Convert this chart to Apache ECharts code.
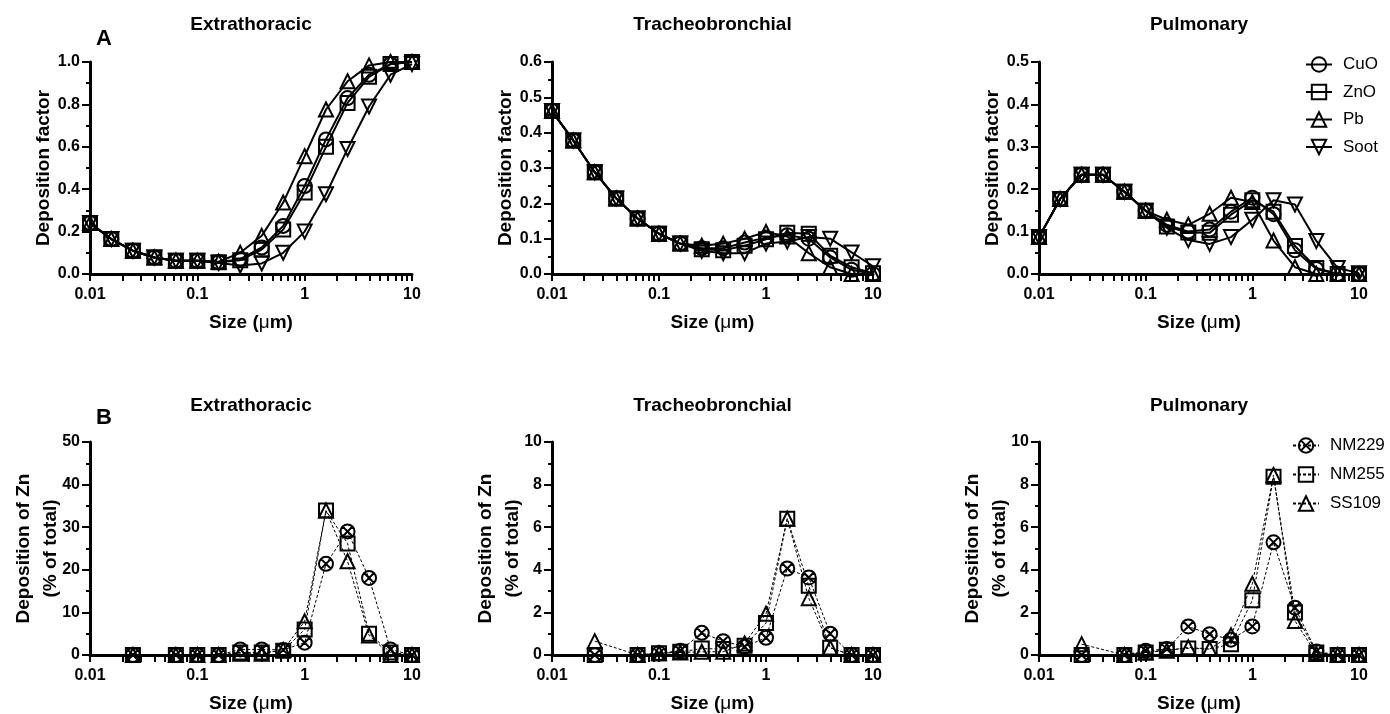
<!DOCTYPE html>
<html>
<head>
<meta charset="utf-8">
<script src="https://cdn.jsdelivr.net/npm/echarts@6/dist/echarts.min.js"></script>
<style>
  html, body { margin: 0; background: #fff; }
  #chart { width: 1390px; height: 714px; }
</style>
</head>
<body>
<div id="chart"></div>
<script>
// particle sizes (um)
const sizesA = [0.01, 0.0158, 0.0251, 0.0398, 0.0631, 0.1, 0.158, 0.251, 0.398, 0.631, 1, 1.58, 2.51, 3.98, 6.31, 10]
const sizesB = [0.0251, 0.0631, 0.1, 0.158, 0.251, 0.398, 0.631, 1, 1.58, 2.51, 3.98, 6.31, 10]
const sizeTicks = [0.01, 0.02, 0.03, 0.04, 0.05, 0.06, 0.07, 0.08, 0.09, 0.1, 0.2, 0.3, 0.4, 0.5, 0.6, 0.7, 0.8, 0.9,
  1, 2, 3, 4, 5, 6, 7, 8, 9, 10]

// A: deposition factor
const etCuO = [0.24, 0.165, 0.11, 0.078, 0.063, 0.063, 0.055, 0.07, 0.125, 0.227, 0.415, 0.635, 0.83, 0.94, 0.99, 1.0]
const etZnO = [0.24, 0.165, 0.11, 0.078, 0.063, 0.063, 0.055, 0.065, 0.115, 0.21, 0.385, 0.6, 0.807, 0.93, 0.99, 1.0]
const etPb = [0.24, 0.165, 0.11, 0.078, 0.063, 0.063, 0.058, 0.1, 0.18, 0.337, 0.556, 0.776, 0.909, 0.984, 1.0, 1.0]
const etSoot = [0.24, 0.165, 0.11, 0.078, 0.063, 0.063, 0.052, 0.04, 0.05, 0.1, 0.2, 0.376, 0.59, 0.79, 0.94, 0.99]

const tbCuO = [0.461, 0.378, 0.288, 0.214, 0.157, 0.114, 0.086, 0.073, 0.073, 0.089, 0.103, 0.11, 0.1, 0.047, 0.012, 0]
const tbZnO = [0.461, 0.378, 0.288, 0.214, 0.157, 0.114, 0.086, 0.07, 0.067, 0.08, 0.098, 0.117, 0.114, 0.052, 0.019, 0.002]
const tbPb = [0.461, 0.378, 0.288, 0.214, 0.157, 0.114, 0.086, 0.08, 0.086, 0.1, 0.119, 0.106, 0.059, 0.019, 0, 0]
const tbSoot = [0.461, 0.378, 0.288, 0.214, 0.157, 0.114, 0.086, 0.066, 0.059, 0.059, 0.086, 0.092, 0.105, 0.1, 0.061, 0.022]

const pulCuO = [0.087, 0.177, 0.234, 0.234, 0.194, 0.149, 0.116, 0.1, 0.105, 0.147, 0.18, 0.141, 0.056, 0.012, 0, 0]
const pulZnO = [0.087, 0.177, 0.234, 0.234, 0.194, 0.149, 0.112, 0.098, 0.097, 0.14, 0.174, 0.147, 0.066, 0.014, 0, 0]
const pulPb = [0.087, 0.177, 0.234, 0.234, 0.194, 0.149, 0.128, 0.116, 0.142, 0.18, 0.17, 0.079, 0.016, 0, 0, 0]
const pulSoot = [0.087, 0.177, 0.234, 0.234, 0.194, 0.149, 0.109, 0.08, 0.071, 0.087, 0.128, 0.174, 0.164, 0.078, 0.014, 0.002]

// B: deposition of Zn (% of total)
const etNM229 = [0, 0, 0, 0, 1.3, 1.3, 1.2, 2.9, 21.4, 29, 18.1, 1.3, 0]
const etNM255 = [0, 0, 0, 0, 0.6, 0.6, 1.0, 6.0, 33.9, 26.2, 5.0, 0.6, 0]
const etSS109 = [0, 0, 0, 0, 0.3, 0.3, 1.2, 7.9, 33.9, 22, 4.6, 0, 0]

const tbNM229 = [0, 0, 0.08, 0.2, 1.04, 0.65, 0.39, 0.81, 4.06, 3.64, 1.0, 0, 0]
const tbNM255 = [0, 0, 0.08, 0.15, 0.3, 0.28, 0.43, 1.5, 6.4, 3.25, 0.34, 0, 0]
const tbSS109 = [0.65, 0, 0.08, 0.12, 0.15, 0.15, 0.54, 1.94, 6.4, 2.67, 0.34, 0, 0]

const pulNM229 = [0, 0, 0.2, 0.28, 1.34, 0.98, 0.72, 1.34, 5.29, 2.22, 0.17, 0, 0]
const pulNM255 = [0, 0, 0.12, 0.25, 0.31, 0.28, 0.51, 2.57, 8.37, 1.99, 0.12, 0, 0]
const pulSS109 = [0.51, 0, 0.12, 0.2, 0.36, 0.28, 0.93, 3.34, 8.45, 1.6, 0.05, 0, 0]

const panelTitles = ['Extrathoracic', 'Tracheobronchial', 'Pulmonary']
const yMaxA = [1, 0.6, 0.5]
const yStepA = [0.2, 0.1, 0.1]
const yMaxB = [50, 10, 10]
const yStepB = [10, 2, 2]

const font = "'Liberation Sans', Arial, Helvetica, sans-serif"
const crossCircle = 'path://M0,10A10,10 0 1,1 20,10A10,10 0 1,1 0,10Z M2.93,2.93L17.07,17.07 M17.07,2.93L2.93,17.07'

const colLeft = [90, 552, 1039]
const colWidth = [322, 321, 320]

let grids = []
let xAxes = []
let yAxes = []
let titles = []
let series = []

function makeAxes (idx, yMax, yStep, yName, nameGap, decimals) {
  xAxes.push({
    type: 'log',
    logBase: 10,
    gridIndex: idx,
    min: 0.01,
    max: 10,
    name: 'Size ({mu|μ}m)',
    nameLocation: 'middle',
    nameGap: 39,
    nameMoveOverlap: false,
    nameTextStyle: {
      fontFamily: font,
      fontSize: 19,
      fontWeight: 'bold',
      color: '#000',
      rich: { mu: { fontFamily: font, fontSize: 19, fontWeight: 'normal', color: '#000' } }
    },
    axisLine: { lineStyle: { color: '#000', width: 3 } },
    axisTick: { length: 7, lineStyle: { color: '#000', width: 2 }, customValues: sizeTicks },
    splitLine: { show: false },
    axisLabel: {
      margin: 13,
      fontFamily: font,
      fontSize: 16,
      fontWeight: 'bold',
      color: '#000',
      formatter: v => String(+Number(v).toPrecision(3))
    }
  })
  yAxes.push({
    type: 'value',
    gridIndex: idx,
    min: 0,
    max: yMax,
    interval: yStep,
    name: yName,
    nameLocation: 'middle',
    nameGap: nameGap,
    nameMoveOverlap: false,
    nameTextStyle: { fontFamily: font, fontSize: 19, fontWeight: 'bold', color: '#000', lineHeight: 27 },
    axisLine: { show: true, lineStyle: { color: '#000', width: 3 } },
    axisTick: { show: true, length: 8, lineStyle: { color: '#000', width: 2 } },
    minorTick: { show: true, splitNumber: 2, length: 4, lineStyle: { color: '#000', width: 2 } },
    splitLine: { show: false },
    axisLabel: {
      margin: 10,
      fontFamily: font,
      fontSize: 16,
      fontWeight: 'bold',
      color: '#000',
      formatter: v => v.toFixed(decimals)
    }
  })
}

function addSeries (name, xs, ys, idx, symbol, rotate, dashed) {
  series.push({
    type: 'line',
    name: name,
    xAxisIndex: idx,
    yAxisIndex: idx,
    data: xs.map((x, i) => [x, ys[i]]),
    symbol: symbol,
    symbolSize: 14,
    symbolRotate: rotate,
    clip: false,
    animation: false,
    lineStyle: dashed ? { color: '#000', width: 1, type: [3, 2] } : { color: '#000', width: 2 },
    itemStyle: { color: 'rgba(255,255,255,0)', borderColor: '#000', borderWidth: 2 },
    emphasis: { disabled: true }
  })
}

for (let c = 0; c < 3; c++) {
  // row A
  grids.push({ left: colLeft[c], top: 62, width: colWidth[c], height: 212 })
  makeAxes(c, yMaxA[c], yStepA[c], 'Deposition factor', 33, 1)
  titles.push({
    text: panelTitles[c],
    left: colLeft[c] + colWidth[c] / 2,
    top: 15,
    textAlign: 'center',
    padding: 0,
    textStyle: { fontFamily: font, fontSize: 19, fontWeight: 'bold', color: '#000' }
  })
}
for (let c = 0; c < 3; c++) {
  // row B
  grids.push({ left: colLeft[c], top: 442, width: colWidth[c], height: 214 })
  makeAxes(c + 3, yMaxB[c], yStepB[c], 'Deposition of Zn\n(% of total)', 26, 0)
  titles.push({
    text: panelTitles[c],
    left: colLeft[c] + colWidth[c] / 2,
    top: 396,
    textAlign: 'center',
    padding: 0,
    textStyle: { fontFamily: font, fontSize: 19, fontWeight: 'bold', color: '#000' }
  })
}
titles.push({ text: 'A', left: 96, top: 28, padding: 0, textStyle: { fontFamily: font, fontSize: 22, fontWeight: 'bold', color: '#000' } })
titles.push({ text: 'B', left: 96, top: 407, padding: 0, textStyle: { fontFamily: font, fontSize: 22, fontWeight: 'bold', color: '#000' } })

const setA = [[etCuO, etZnO, etPb, etSoot], [tbCuO, tbZnO, tbPb, tbSoot], [pulCuO, pulZnO, pulPb, pulSoot]]
const setB = [[etNM229, etNM255, etSS109], [tbNM229, tbNM255, tbSS109], [pulNM229, pulNM255, pulSS109]]

for (let c = 0; c < 3; c++) {
  addSeries('CuO', sizesA, setA[c][0], c, 'circle', 0, false)
  addSeries('ZnO', sizesA, setA[c][1], c, 'rect', 0, false)
  addSeries('Pb', sizesA, setA[c][2], c, 'triangle', 0, false)
  addSeries('Soot', sizesA, setA[c][3], c, 'triangle', 180, false)
}
for (let c = 0; c < 3; c++) {
  addSeries('NM229', sizesB, setB[c][0], c + 3, crossCircle, 0, true)
  addSeries('NM255', sizesB, setB[c][1], c + 3, 'rect', 0, true)
  addSeries('SS109', sizesB, setB[c][2], c + 3, 'triangle', 0, true)
}

const legendText = { fontFamily: font, fontSize: 17, color: '#000', padding: [0, 0, 0, 6] }

let option = {
  backgroundColor: '#fff',
  animation: false,
  title: titles,
  legend: [
    {
      data: ['CuO', 'ZnO', 'Pb', 'Soot'],
      orient: 'vertical',
      left: 1305,
      top: 56,
      padding: 0,
      itemWidth: 26,
      itemHeight: 18,
      itemGap: 10.5,
      selectedMode: false,
      textStyle: legendText
    },
    {
      data: ['NM229', 'NM255', 'SS109'],
      orient: 'vertical',
      left: 1292,
      top: 437,
      padding: 0,
      itemWidth: 26,
      itemHeight: 18,
      itemGap: 12,
      selectedMode: false,
      textStyle: legendText
    }
  ],
  grid: grids,
  xAxis: xAxes,
  yAxis: yAxes,
  series: series
}

let chart = echarts.init(document.getElementById('chart'))
chart.setOption(option)
</script>
</body>
</html>
